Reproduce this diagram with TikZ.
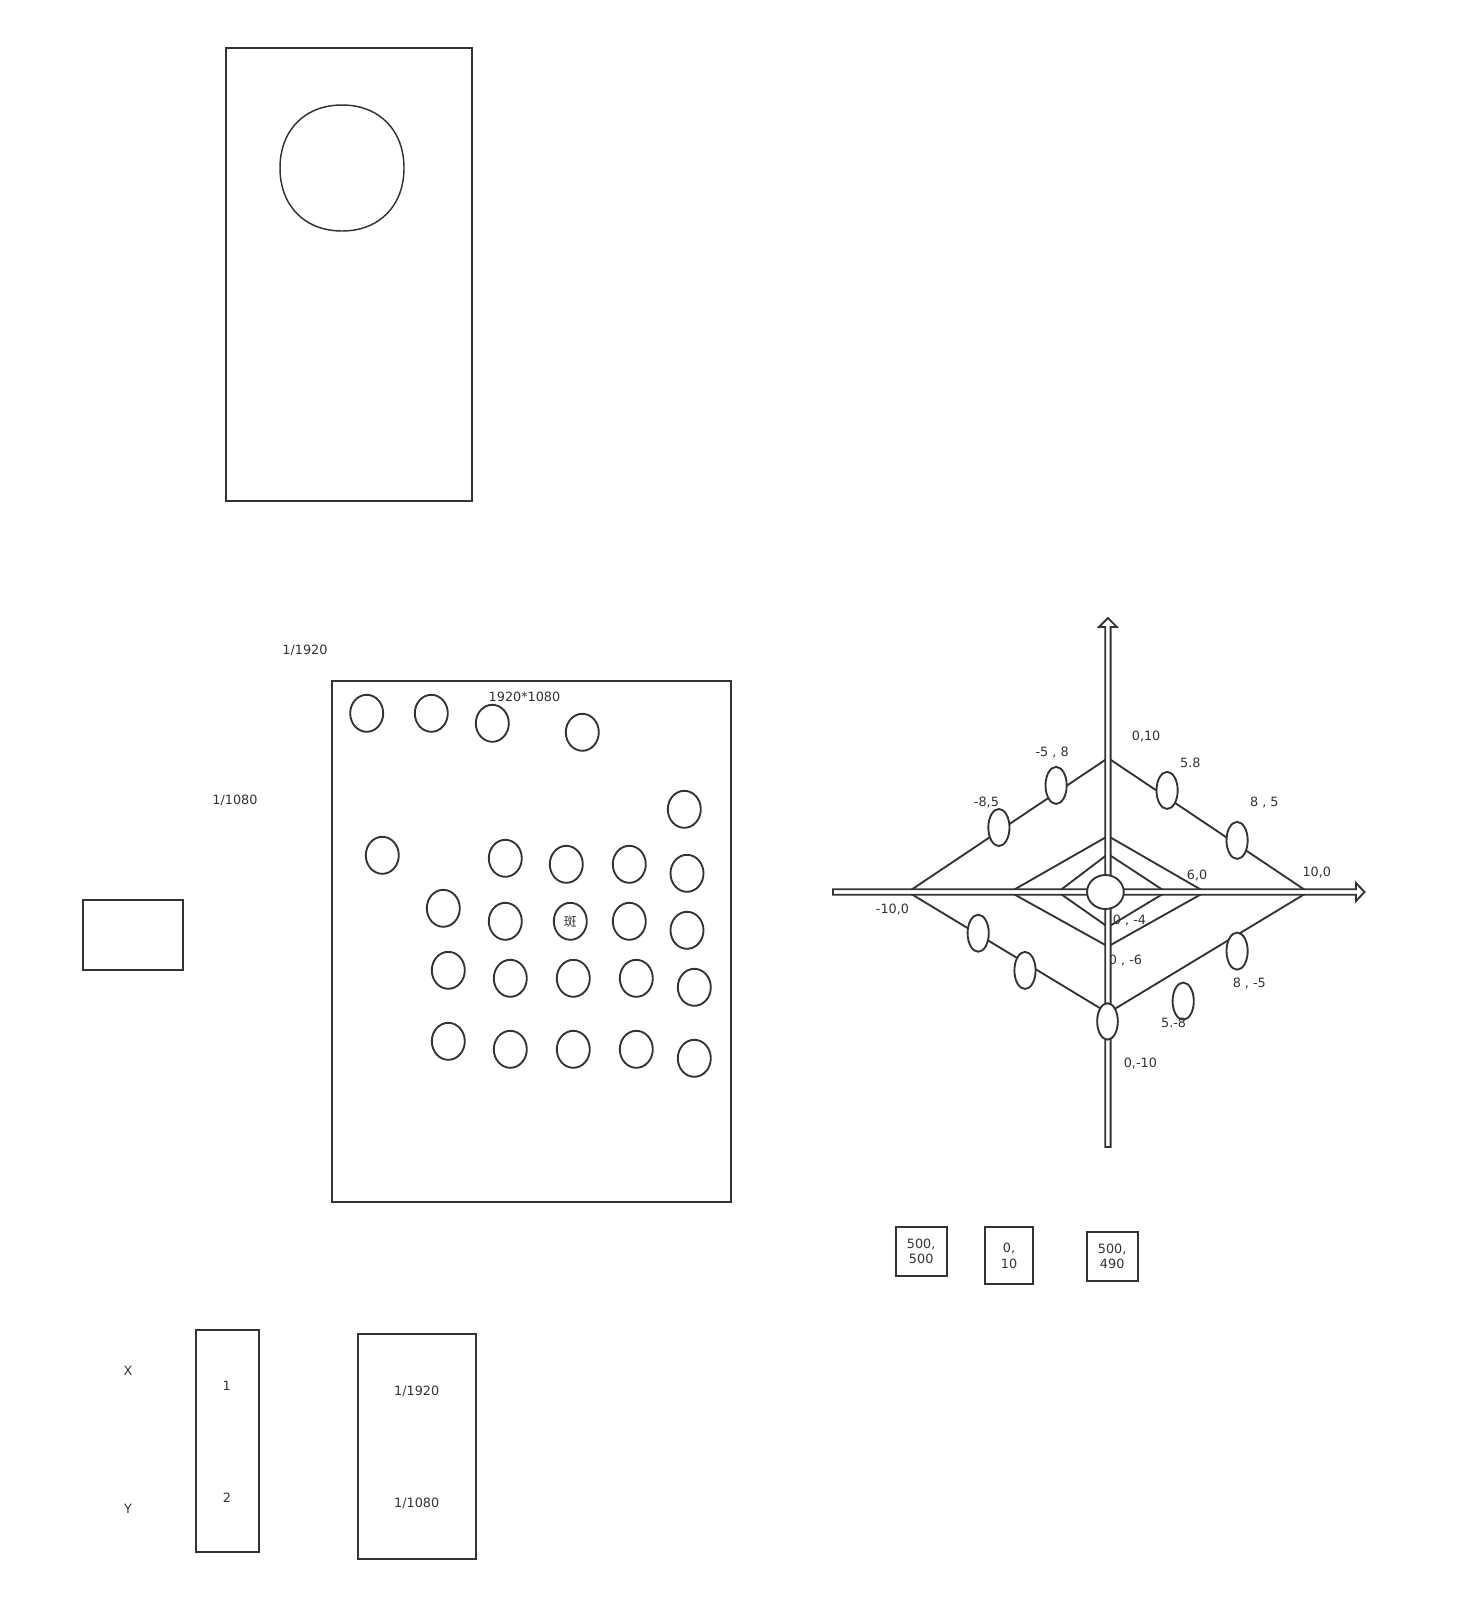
\documentclass[tikz,border=0pt]{standalone}
\usepackage{fontspec}
\setmainfont{DejaVu Sans}
\newfontfamily\cjk{Noto Sans CJK SC}
\usetikzlibrary{shapes.geometric}
\definecolor{ink}{HTML}{333333}

\begin{document}
\begin{tikzpicture}[x=0.75pt,y=-0.75pt,color=ink,line width=1.4pt,
  every node/.style={font=\fontsize{9.6}{11.8}\selectfont,text=ink},
  frame/.style={draw,rectangle,inner sep=0pt},
  spot/.style={draw,ellipse,fill=white,inner sep=0pt,minimum width=24.75pt,minimum height=27.75pt},
  knot/.style={draw,ellipse,fill=white,inner sep=0pt,minimum width=15.9pt,minimum height=27.8pt},
  cell/.style={draw,rectangle,fill=white,inner sep=0pt,align=center},
  arrowbar/.style={draw,fill=white,line join=miter},
  tag/.style={inner sep=0pt}]
  \useasboundingbox (0,0) rectangle (1460,1621);

  \node[frame,minimum width=184.5pt,minimum height=339.75pt] (phone) at (349,274.5) {};
  \coordinate (lens) at (342,168);
  \draw[shift={(lens)},line width=1.1pt] (62,0) .. controls (62,37.8) and (37.2,63) .. (0,63)
    .. controls (-37.2,63) and (-62,37.8) .. (-62,0)
    .. controls (-62,-37.8) and (-37.2,-63) .. (0,-63)
    .. controls (37.2,-63) and (62,-37.8) .. (62,0) -- cycle;

  \node[frame,minimum width=75pt,minimum height=52.5pt] (thumb) at (133,935) {};
  \node[tag] (fx) at (305,650) {1/1920};
  \node[tag] (fy) at (235,800) {1/1080};

  \node[frame,minimum width=299.25pt,minimum height=390.45pt] (screen) at (531.5,941.3) {};
  \node[tag] (res) at (524.5,696.7) {1920*1080};
  \foreach \px/\py [count=\i] in {366.7/713.3, 431.3/713.3, 492.3/723.3, 582.3/732.3,
      684.3/809.3, 382.3/855.3, 505.3/858.3, 566.3/864.3, 629.3/864.3, 687/873.3,
      443.3/908.3, 505.3/921.3, 570.3/921.3, 629.3/921.3, 687/930.3,
      448.3/970.3, 510.3/978.3, 573.3/978.3, 636.3/978.3, 694.3/987.3,
      448.3/1041.3, 510.3/1049.3, 573.3/1049.3, 636.3/1049.3, 694.3/1058.3}
    \node[spot] (s\i) at (\px,\py) {};
  \node[tag] (ban) at (s13) {\cjk 斑};

  \node[tag] (kx) at (128,1371) {X};
  \node[tag] (ky) at (128,1509) {Y};
  \node[frame,minimum width=47.5pt,minimum height=166.5pt] (idx) at (227.35,1440.7) {};
  \node[tag] (i1) at (226.7,1386) {1};
  \node[tag] (i2) at (227,1497.7) {2};
  \node[frame,minimum width=88.7pt,minimum height=168.75pt] (ratio) at (416.85,1446.2) {};
  \node[tag] (rx) at (416.7,1391.7) {1/1920};
  \node[tag] (ry) at (416.7,1503.3) {1/1080};

  \node[cell,minimum width=38.25pt,minimum height=37pt] (p1) at (921.2,1251.35) {500,\\500};
  \node[cell,minimum width=36pt,minimum height=43.2pt] (p2) at (1009,1255.5) {0,\\10};
  \node[cell,minimum width=38.25pt,minimum height=37pt] (p3) at (1112.2,1256.35) {500,\\490};

  \coordinate (T1) at (1108,758);   \coordinate (L1) at (908,892);
  \coordinate (B1) at (1108,1013);  \coordinate (R1) at (1308,892);
  \coordinate (T2) at (1108,836);   \coordinate (L2) at (1010,892);
  \coordinate (B2) at (1108,946.5); \coordinate (R2) at (1205,892);
  \coordinate (T3) at (1108,854);   \coordinate (L3) at (1058,892);
  \coordinate (B3) at (1108,927);   \coordinate (R3) at (1166,892);
  \draw (T1) -- (L1) -- (B1) -- (R1) -- cycle;
  \draw (T2) -- (L2) -- (B2) -- (R2) -- cycle;
  \draw (T3) -- (L3) -- (B3) -- (R3) -- cycle;
  \node[tag] (m4) at (1129.5,920.5) {0 , -4};
  \node[tag] (m6) at (1125.5,960) {0 , -6};

  \draw[arrowbar] (833,889.3) -- (1356,889.3) -- (1356,883) -- (1364.5,892)
    -- (1356,901) -- (1356,894.7) -- (833,894.7) -- cycle;
  \draw[arrowbar] (1105.2,1147) -- (1105.2,627) -- (1099,627) -- (1107.9,618)
    -- (1116.8,627) -- (1110.6,627) -- (1110.6,1147) -- cycle;

  \node[knot] (k1) at (1056.1,785.4) {};
  \node[knot] (k2) at (998.9,827.5) {};
  \node[knot] (k3) at (1167.1,790.4) {};
  \node[knot] (k4) at (1237.1,840.4) {};
  \node[knot] (k5) at (978.2,933.2) {};
  \node[knot] (k6) at (1025,970.4) {};
  \node[knot] (k7) at (1237.1,951.1) {};
  \node[knot] (k8) at (1183.2,1001.1) {};
  \node[knot,minimum width=15.5pt,minimum height=27.3pt] (k9) at (1107.5,1021.4) {};
  \node[draw,ellipse,fill=white,inner sep=0pt,minimum width=27.5pt,minimum height=25.5pt]
    (org) at (1105.4,892) {};

  \node[tag] (n1) at (1146.1,736.4) {0,10};
  \node[tag] (n2) at (1052.1,752.5) {-5 , 8};
  \node[tag] (n3) at (1190.4,762.5) {5.8};
  \node[tag] (n4) at (986.4,802.5) {-8,5};
  \node[tag] (n5) at (1264.3,802.5) {8 , 5};
  \node[tag] (n6) at (1316.8,872.5) {10,0};
  \node[tag] (n7) at (1197.1,875.4) {6,0};
  \node[tag] (n8) at (892.5,909.3) {-10,0};
  \node[tag] (n9) at (1249.3,983.2) {8 , -5};
  \node[tag] (n10) at (1173.6,1023.2) {5.-8};
  \node[tag] (n11) at (1140.4,1063.2) {0,-10};
\end{tikzpicture}
\end{document}
